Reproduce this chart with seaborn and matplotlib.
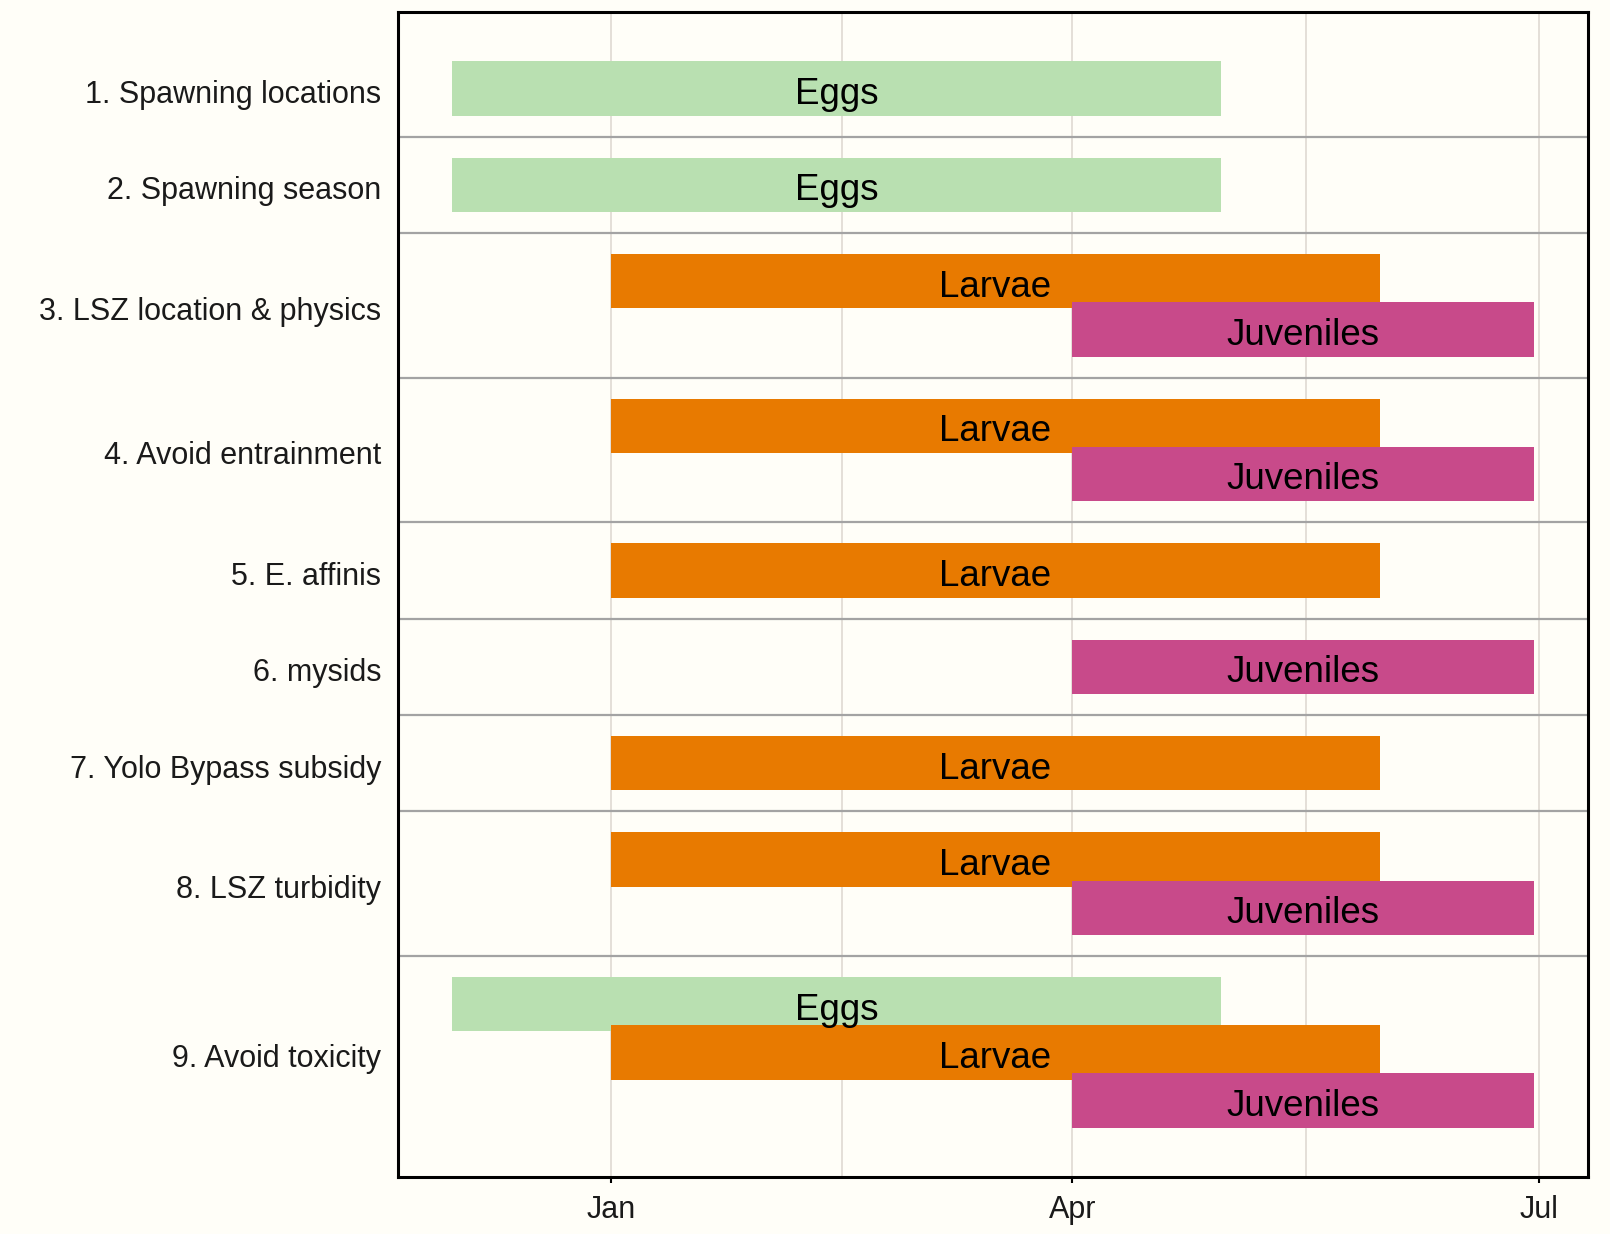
import pandas as pd
import numpy as np
import seaborn as sns
import matplotlib.pyplot as plt
import matplotlib.dates as mdates
import matplotlib.transforms as mtransforms

# Life stages and their seasonal windows
stages = ["Eggs", "Larvae", "Juveniles"]
stage_start = ["2016-12-01", "2017-01-01", "2017-04-01"]
stage_end = ["2017-04-30", "2017-05-31", "2017-06-30"]
stage_colors = ["#B9E0B1", "#E87A00", "#C84A8A"]

# Hypotheses (rows) and the stages each one covers
rows = [
    "1. Spawning locations",
    "2. Spawning season",
    "3. LSZ location & physics",
    "4. Avoid entrainment",
    "5. E. affinis",
    "6. mysids",
    "7. Yolo Bypass subsidy",
    "8. LSZ turbidity",
    "9. Avoid toxicity",
]
row_stages = [
    ["Eggs"],
    ["Eggs"],
    ["Larvae", "Juveniles"],
    ["Larvae", "Juveniles"],
    ["Larvae"],
    ["Juveniles"],
    ["Larvae"],
    ["Larvae", "Juveniles"],
    ["Eggs", "Larvae", "Juveniles"],
]

# long table, one line per bar
records = []
for r, st in zip(rows, row_stages):
    for s in st:
        i = stages.index(s)
        records.append({"row": r, "stage": s,
                        "start": pd.Timestamp(stage_start[i]),
                        "end": pd.Timestamp(stage_end[i])})
df = pd.DataFrame(records)

# y slot for every bar: one unit within a row, a blank unit between rows
ypos, centers, seps = [], [], []
y = 0
for k, st in enumerate(row_stages):
    first = y
    for _ in st:
        ypos.append(y)
        y += 1
    centers.append((first + y - 1) / 2)
    if k < len(row_stages) - 1:
        seps.append(y)
    y += 1
df["y"] = ypos

sns.set_theme(style="white")
plt.rcParams["font.family"] = ["Liberation Sans", "DejaVu Sans"]
bg = "#FFFEF8"

fig = plt.figure(figsize=(16.1, 12.34), dpi=100, facecolor=bg)
ax = fig.add_axes([0.2472, 0.0462, 0.7391, 0.9441])
ax.set_facecolor(bg)

bar_h = 1.13
palette = dict(zip(stages, stage_colors))
x0 = mdates.date2num(df["start"])
x1 = mdates.date2num(df["end"])
ax.barh(df["y"], x1 - x0, left=x0, height=bar_h,
        color=[palette[s] for s in df["stage"]], edgecolor="none",
        linewidth=0, zorder=2)
for xs, xe, yy, s in zip(x0, x1, df["y"], df["stage"]):
    ax.text((xs + xe) / 2, yy + 0.32, s, ha="center", va="baseline",
            fontsize=26.5, color="black", zorder=3)

for s in seps:
    ax.axhline(s, color="#A3A3A3", lw=1.6, zorder=1)

# date axis
lo = mdates.date2num(pd.Timestamp(stage_start[0]))
hi = mdates.date2num(pd.Timestamp(stage_end[-1]))
pad = (hi - lo) * 0.05
ax.set_xlim(lo - pad, hi + pad)
major = [pd.Timestamp("2017-01-01"), pd.Timestamp("2017-04-01"), pd.Timestamp("2017-07-01")]
mj = mdates.date2num(major)
ax.set_xticks(mj)
ax.set_xticklabels([d.strftime("%b") for d in major])
ax.set_xticks((mj[:-1] + mj[1:]) / 2, minor=True)
ax.grid(True, axis="x", which="both", color="#E4DFD8", lw=1.4, zorder=0)
ax.set_axisbelow(True)

ymax = max(ypos)
ax.set_ylim(ymax + bar_h / 2 + 1.02, -bar_h / 2 - 1.02)
ax.set_yticks(centers)
ax.set_yticklabels(rows)

ax.tick_params(axis="x", which="major", length=4, width=1.5, color="black",
               labelsize=22, pad=9, labelcolor="#1a1a1a", bottom=True)
ax.tick_params(axis="x", which="minor", length=0)
ax.tick_params(axis="y", length=0, labelsize=22, pad=12, labelcolor="#1a1a1a")
# nudge row labels down a touch
shift = mtransforms.ScaledTranslation(0, -3 / 100, fig.dpi_scale_trans)
for lab in ax.get_yticklabels():
    lab.set_transform(lab.get_transform() + shift)
for sp in ax.spines.values():
    sp.set_color("black")
    sp.set_linewidth(2.2)
    sp.set_visible(True)

plt.savefig("out.png", dpi=100, facecolor=bg)
